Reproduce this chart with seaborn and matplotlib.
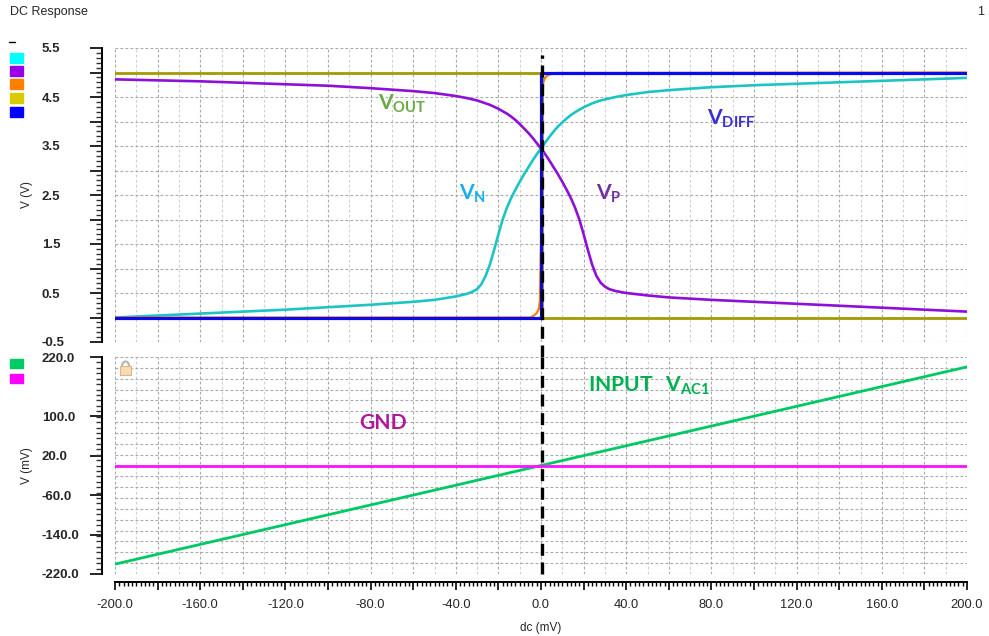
import numpy as np
import pandas as pd
import matplotlib
matplotlib.use("Agg")
import matplotlib.pyplot as plt
from matplotlib.ticker import MultipleLocator, FixedLocator, FuncFormatter
from matplotlib.patches import Rectangle, Arc
from matplotlib.lines import Line2D
import seaborn as sns

# ---------------- data ----------------
# DC sweep points (mV)
dc = [-200, -180, -160, -140, -120, -100, -80, -60, -50, -40, -35, -32, -30, -28,
      -26, -24, -22, -20, -18, -16, -14, -12, -10, -8, -6, -4, -2, 0, 2, 4, 6, 8,
      10, 12, 14, 16, 18, 20, 22, 24, 26, 28, 30, 32, 35, 40, 50, 60, 80, 100,
      120, 140, 160, 180, 200]

# V_N node voltage (V)
v_n = [0.00, 0.04, 0.08, 0.12, 0.16, 0.21, 0.26, 0.32, 0.36, 0.43, 0.48, 0.53,
       0.58, 0.68, 0.85, 1.08, 1.38, 1.70, 2.00, 2.24, 2.44, 2.61, 2.77, 2.92,
       3.06, 3.20, 3.33, 3.45, 3.57, 3.69, 3.80, 3.90, 3.98, 4.06, 4.13, 4.19,
       4.24, 4.29, 4.33, 4.37, 4.40, 4.43, 4.45, 4.47, 4.50, 4.54, 4.60, 4.64,
       4.70, 4.74, 4.77, 4.80, 4.83, 4.86, 4.89]

# V_P node voltage (V)
v_p = [4.86, 4.84, 4.82, 4.79, 4.76, 4.73, 4.68, 4.62, 4.58, 4.52, 4.48, 4.45,
       4.43, 4.40, 4.37, 4.34, 4.30, 4.26, 4.21, 4.16, 4.10, 4.03, 3.95, 3.86,
       3.77, 3.67, 3.56, 3.45, 3.33, 3.20, 3.06, 2.92, 2.77, 2.61, 2.44, 2.24,
       2.00, 1.70, 1.38, 1.08, 0.85, 0.71, 0.63, 0.58, 0.54, 0.50, 0.45, 0.41,
       0.36, 0.32, 0.28, 0.24, 0.20, 0.16, 0.12]

# comparator internal node (orange trace)
dc_mid = [-200, -5, -3.3, -2, -1, -0.5, 0, 0.4, 1, 2, 3.5, 5, 7, 200]
v_mid = [0.0, 0.0, 0.04, 0.09, 0.18, 0.35, 1.5, 3.8, 4.79, 4.90, 4.95, 4.97, 4.99, 5.0]

# V_OUT and V_DIFF (ideal switching)
dc_out = [-200, 0.6, 0.6, 200]
v_out = [5.0, 5.0, 0.0, 0.0]
dc_diff = [-200, 0.0, 0.0, 200]
v_diff = [0.0, 0.0, 5.0, 5.0]

# input sweep and ground (mV)
dc_in = [-200, 200]
v_in = [-200, 200]
v_gnd = [0, 0]

cursor_dc = 0.6

top_ticks = [-0.5, 0.5, 1.5, 2.5, 3.5, 4.5, 5.5]
bot_ticks = [-220, -140, -60, 20, 100, 220]
x_labels = [-200, -160, -120, -80, -40, 0, 40, 80, 120, 160, 200]

# ---------------- style ----------------
sns.set_theme(style="white")
plt.rcParams["font.family"] = ["Liberation Sans", "DejaVu Sans"]
plt.rcParams["mathtext.fontset"] = "custom"
plt.rcParams["mathtext.rm"] = "Lato"
plt.rcParams["mathtext.bf"] = "Lato:bold"

c_cyan = "#1cc4c4"
c_purple = "#8e10d8"
c_orange = "#ff7f00"
c_olive = "#a39c00"
c_blue = "#0a0aee"
c_green = "#00c864"
c_magenta = "#ff10ff"

W, H = 989, 636
fig = plt.figure(figsize=(W / 100, H / 100), dpi=100)


def fx(px):
    return px / W


def fy(py):
    return 1 - py / H


L, R = 115, 967
ax1 = fig.add_axes([fx(L), fy(342), fx(R) - fx(L), fy(48) - fy(342)])
ax2 = fig.add_axes([fx(L), fy(574), fx(R) - fx(L), fy(357) - fy(574)])

grid_dark = dict(color="#a8a8a8", lw=0.8, ls=(0, (2.5, 2)), zorder=0.5)
grid_light = dict(color="#cfcfcf", lw=0.8, ls=(0, (2.5, 2)), zorder=0.5)

for ax in (ax1, ax2):
    ax.set_xlim(-200, 200)
    for xv in range(-200, 201, 10):
        ax.axvline(xv, **(grid_dark if xv % 20 == 0 else grid_light))
    for side in ("top", "right", "bottom"):
        ax.spines[side].set_visible(False)
    ax.spines["left"].set_position(("outward", 9.4))
    ax.spines["left"].set_color("black")
    ax.spines["left"].set_linewidth(1.4)
    ax.set_facecolor("white")

ax1.set_ylim(-0.5, 5.5)
ax2.set_ylim(-220, 220)
for yv in np.arange(-0.5, 5.51, 0.5):
    ax1.axhline(yv, **grid_dark)
for yv in range(-220, 221, 22):
    ax2.axhline(yv, **grid_dark)

# ---------------- traces ----------------
lw = 1.9
sns.lineplot(x=dc, y=v_n, ax=ax1, color=c_cyan, lw=lw, estimator=None, sort=False, zorder=3)
sns.lineplot(x=dc, y=v_p, ax=ax1, color=c_purple, lw=lw, estimator=None, sort=False, zorder=3)
sns.lineplot(x=dc_mid, y=v_mid, ax=ax1, color=c_orange, lw=1.6, estimator=None, sort=False, zorder=3.5)
sns.lineplot(x=dc_out, y=v_out, ax=ax1, color=c_olive, lw=2.0, estimator=None, sort=False, zorder=4)
sns.lineplot(x=dc_diff, y=v_diff, ax=ax1, color=c_blue, lw=2.3, estimator=None, sort=False, zorder=5)

sns.lineplot(x=dc_in, y=v_in, ax=ax2, color=c_green, lw=2.0, estimator=None, sort=False, zorder=3)
sns.lineplot(x=dc_in, y=v_gnd, ax=ax2, color=c_magenta, lw=2.0, estimator=None, sort=False, zorder=3)

dash = dict(color="black", lw=2.4, ls=(0, (3.6, 2.0)), zorder=6, clip_on=False)
ax1.axvline(cursor_dc, ymin=-15 / 294, ymax=(342 - 55) / 294, **dash)
ax2.axvline(cursor_dc, ymin=0, ymax=1, **dash)

# ---------------- ticks ----------------
ax1.tick_params(axis="x", which="both", length=0, labelbottom=False)
ax1.yaxis.set_major_locator(MultipleLocator(0.5))
ax1.yaxis.set_minor_locator(MultipleLocator(0.1))
ax1.yaxis.set_major_formatter(
    FuncFormatter(lambda v, p: f"{v:.1f}" if any(abs(v - t) < 1e-6 for t in top_ticks) else ""))

ax2.yaxis.set_major_locator(FixedLocator(bot_ticks))
ax2.yaxis.set_minor_locator(FixedLocator(list(range(-220, 221, 11))))
ax2.yaxis.set_major_formatter(FuncFormatter(lambda v, p: f"{v:.1f}"))

for ax in (ax1, ax2):
    ax.tick_params(axis="y", which="major", direction="out", length=8.6, width=1.2,
                   color="black", pad=34.6, labelsize=9.5, left=True)
    ax.tick_params(axis="y", which="minor", direction="out", length=4.5, width=1.0,
                   color="#333333", left=True)
    for lab in ax.get_yticklabels():
        lab.set_horizontalalignment("left")
        lab.set_fontweight("bold")

ax2.spines["bottom"].set_visible(True)
ax2.spines["bottom"].set_position(("outward", 5.8))
ax2.spines["bottom"].set_color("black")
ax2.spines["bottom"].set_linewidth(1.4)
ax2.xaxis.set_major_locator(MultipleLocator(20))
ax2.xaxis.set_minor_locator(MultipleLocator(2))
ax2.xaxis.set_major_formatter(
    FuncFormatter(lambda v, p: f"{v:.1f}" if round(v) in x_labels else ""))
ax2.tick_params(axis="x", which="major", direction="out", length=5.8, width=1.2,
                color="black", pad=6.5, labelsize=9.3, bottom=True)
ax2.tick_params(axis="x", which="minor", direction="out", length=3.0, width=1.0,
                color="black", bottom=True)

ax1.set_xlabel("")
ax1.set_ylabel("V (V)", fontsize=8.5)
ax1.yaxis.set_label_coords((33 - L) / (R - L), 0.5)
ax2.set_ylabel("V (mV)", fontsize=8.5)
ax2.yaxis.set_label_coords((33 - L) / (R - L), 0.5)
ax2.set_xlabel("dc (mV)", fontsize=8.5)
ax2.xaxis.set_label_coords(0.5, -(622 - 574) / 217)

# ---------------- annotations ----------------
fs_lab = 15.2
ax1.text(-76.5, 4.36, r"$\mathbf{V_{OUT}}$", color="#6aaa44", fontsize=fs_lab, va="center", ha="left")
ax1.text(78, 4.05, r"$\mathbf{V_{DIFF}}$", color="#3a30d0", fontsize=fs_lab, va="center", ha="left")
ax1.text(-38.5, 2.52, r"$\mathbf{V_{N}}$", color="#18b0e8", fontsize=fs_lab, va="center", ha="left")
ax1.text(25.8, 2.52, r"$\mathbf{V_{P}}$", color="#7030a0", fontsize=fs_lab, va="center", ha="left")
ax2.text(-74.2, 86, "GND", color="#b0179b", fontsize=fs_lab, fontweight="bold",
         family="Lato", va="center", ha="center")
ax2.text(22, 161, r"$\mathbf{INPUT\ \ V_{AC1}}$", color="#00b050", fontsize=fs_lab,
         va="center", ha="left")

# header
fig.text(fx(10), fy(12), "DC Response", fontsize=9, va="center", ha="left")
fig.text(fx(984), fy(12), "1", fontsize=9, va="center", ha="right")

# trace colour swatches
fig.add_artist(Line2D([fx(9), fx(15)], [fy(42), fy(42)], color="black", lw=1.0,
                      transform=fig.transFigure))
for yc, col in [(58, "#00ffff"), (71, "#9a00e6"), (84, "#ff8000"), (98, "#d8cc00"),
                (112, "#0000ff"), (364, "#00cc66"), (378, "#ff00ff")]:
    fig.add_artist(Rectangle((fx(10), fy(yc + 4.5)), 13 / W, 9 / H, color=col,
                             transform=fig.transFigure))

# lock icon
fig.add_artist(Arc((fx(125.5), fy(366)), 7 / W, 9 / H, theta1=0, theta2=180,
                   color="#b8b8b8", lw=1.6, transform=fig.transFigure))
fig.add_artist(Rectangle((fx(120), fy(375)), 11 / W, 9 / H, facecolor="#f6dcb4",
                         edgecolor="#e6b27a", lw=0.8, transform=fig.transFigure))

fig.savefig("out.png", dpi=100, facecolor="white")
